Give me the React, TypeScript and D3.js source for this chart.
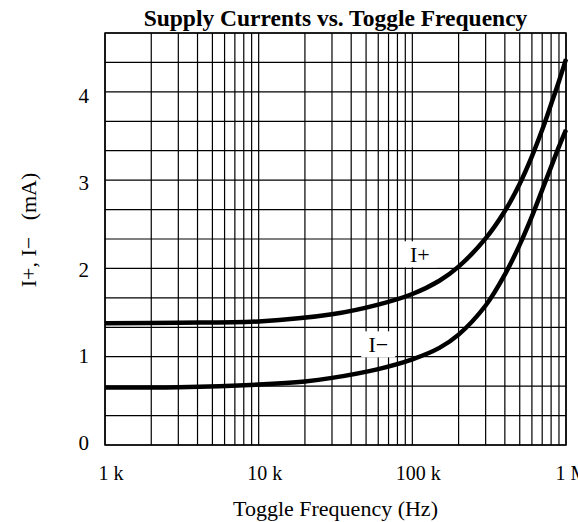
import { useEffect, useRef } from "react";
import * as d3 from "d3";

// frequencies in kHz, currents in mA
const freqIPlus = [1, 3, 10, 30, 60, 100, 150, 200, 300, 400, 500, 600, 700, 800, 900, 1000];
const iPlus = [1.38, 1.385, 1.4, 1.48, 1.59, 1.71, 1.86, 2.02, 2.34, 2.65, 2.96, 3.27, 3.57, 3.86, 4.12, 4.37];

const freqIMinus = [1, 3, 10, 20, 30, 60, 100, 150, 200, 300, 400, 500, 600, 700, 800, 900, 1000];
const iMinus = [0.65, 0.655, 0.685, 0.72, 0.76, 0.86, 0.97, 1.1, 1.25, 1.58, 1.93, 2.27, 2.59, 2.89, 3.15, 3.38, 3.57];

const xTickValues = [1, 10, 100, 1000];
const xTickLabels = ["1 k", "10 k", "100 k", "1 M"];
const yTickValues = [0, 1, 2, 3, 4];

const W = 578;
const H = 522;
const left = 105;
const right = 566;
const top = 33;
const bottom = 445;

export default function App() {
  const svgRef = useRef<SVGSVGElement>(null);

  useEffect(() => {
    if (!svgRef.current) return;
    const svg = d3.select(svgRef.current);
    svg.selectAll("*").remove();

    const x = d3.scaleLog().domain([1, 1000]).range([left, right]);
    const y = d3.scaleLinear().domain([0, 14 / 3]).range([bottom, top]);
    // the printed tick numbers sit a little off the grid in the original
    const yLabel = d3.scaleLinear().domain([0, 4]).range([bottom - 2, y(4) + 4.5]);

    svg.append("rect").attr("width", W).attr("height", H).attr("fill", "white");

    const grid = svg.append("g").attr("stroke", "#000").attr("stroke-width", 1.2);

    // vertical grid: 1..9 in each decade
    const vLines: number[] = [];
    for (let dec = 1; dec < 1000; dec *= 10) {
      for (let m = 1; m <= 9; m++) vLines.push(dec * m);
    }
    vLines.push(1000);
    grid
      .selectAll(".v")
      .data(vLines)
      .enter()
      .append("line")
      .attr("x1", (d) => x(d))
      .attr("x2", (d) => x(d))
      .attr("y1", top)
      .attr("y2", bottom);

    // horizontal grid every 1/3 mA
    const hLines = d3.range(0, 15).map((k) => k / 3);
    grid
      .selectAll(".h")
      .data(hLines)
      .enter()
      .append("line")
      .attr("x1", left)
      .attr("x2", right)
      .attr("y1", (d) => y(d))
      .attr("y2", (d) => y(d));

    // border
    svg
      .append("rect")
      .attr("x", left)
      .attr("y", top)
      .attr("width", right - left)
      .attr("height", bottom - top)
      .attr("fill", "none")
      .attr("stroke", "#000")
      .attr("stroke-width", 1.5);

    const line = d3
      .line<[number, number]>()
      .x((d) => x(d[0]))
      .y((d) => y(d[1]))
      .curve(d3.curveCatmullRom.alpha(0.5));

    const plusPts = freqIPlus.map((f, i) => [f, iPlus[i]] as [number, number]);
    const minusPts = freqIMinus.map((f, i) => [f, iMinus[i]] as [number, number]);

    [plusPts, minusPts].forEach((pts) => {
      svg
        .append("path")
        .attr("d", line(pts))
        .attr("fill", "none")
        .attr("stroke", "#000")
        .attr("stroke-width", 4.5);
    });

    const font = "'Liberation Serif', 'Times New Roman', serif";

    // curve labels with white boxes
    const curveLabels = [
      { text: "I+", f: 112, v: 2.16 },
      { text: "I\u2212", f: 60, v: 1.14 },
    ];
    curveLabels.forEach((c) => {
      svg
        .append("rect")
        .attr("x", x(c.f) - 17)
        .attr("y", y(c.v) - 13)
        .attr("width", 34)
        .attr("height", 26)
        .attr("fill", "white");
      svg
        .append("text")
        .attr("x", x(c.f))
        .attr("y", y(c.v))
        .attr("text-anchor", "middle")
        .attr("dominant-baseline", "central")
        .attr("font-family", font)
        .attr("font-size", 22)
        .text(c.text);
    });

    // title
    svg
      .append("text")
      .attr("x", (left + right) / 2)
      .attr("y", 26)
      .attr("text-anchor", "middle")
      .attr("font-family", font)
      .attr("font-weight", "bold")
      .attr("font-size", 23.5)
      .text("Supply Currents vs. Toggle Frequency");

    // y tick labels
    svg
      .selectAll(".yl")
      .data(yTickValues)
      .enter()
      .append("text")
      .attr("x", 89)
      .attr("y", (d) => yLabel(d))
      .attr("text-anchor", "end")
      .attr("dominant-baseline", "central")
      .attr("font-family", font)
      .attr("font-size", 21)
      .text((d) => String(d));

    // x tick labels
    svg
      .selectAll(".xl")
      .data(xTickValues)
      .enter()
      .append("text")
      .attr("x", (d) => x(d) + 6)
      .attr("y", 480)
      .attr("text-anchor", "middle")
      .attr("font-family", font)
      .attr("font-size", 20)
      .text((d, i) => xTickLabels[i]);

    // axis titles
    svg
      .append("text")
      .attr("x", (left + right) / 2)
      .attr("y", 516)
      .attr("text-anchor", "middle")
      .attr("font-family", font)
      .attr("font-size", 22)
      .text("Toggle Frequency (Hz)");

    svg
      .append("text")
      .attr("transform", `translate(36, 230) rotate(-90)`)
      .attr("text-anchor", "middle")
      .attr("font-family", font)
      .attr("font-size", 22)
      .style("white-space", "pre")
      .text("I+, I\u2212   (mA)");
  }, []);

  return (
    <svg
      ref={svgRef}
      width={W}
      height={H}
      style={{ position: "absolute", left: 0, top: 0 }}
    />
  );
}
